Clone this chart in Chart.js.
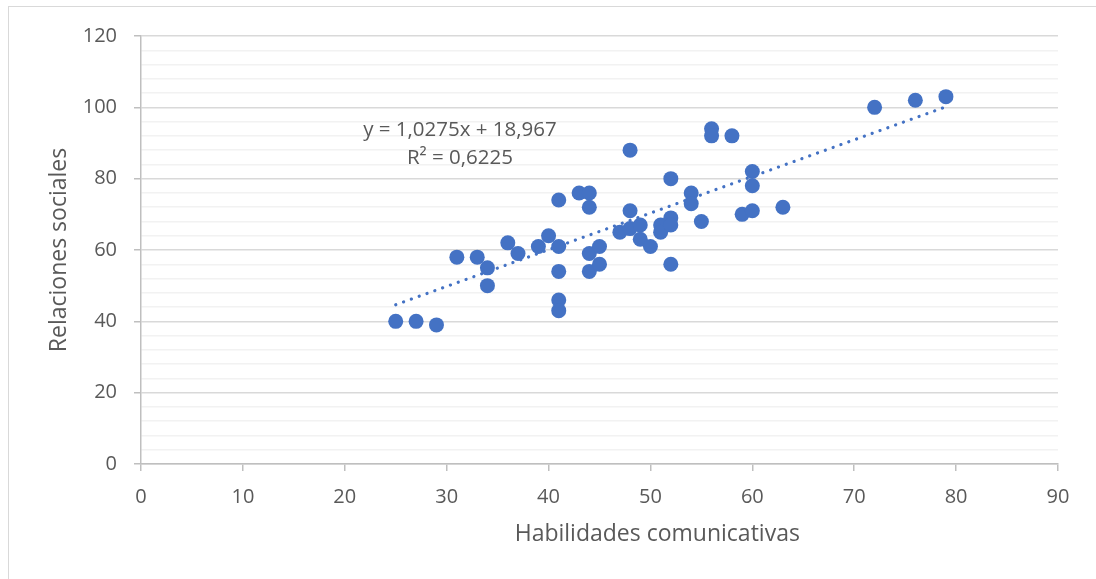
<!DOCTYPE html>
<html>
<head>
<meta charset="utf-8">
<script src="https://cdn.jsdelivr.net/npm/chart.js@4.4.0/dist/chart.umd.min.js"></script>
<style>
  body { margin: 0; background: #fff; overflow: hidden; }
  #wrap { position: relative; width: 1096px; height: 579px; }
  #frame { position: absolute; left: 8px; top: 6px; width: 1200px; height: 700px; border: 1.5px solid #d9d9d9; box-sizing: border-box; }
  canvas { position: absolute; left: 0; top: 0; }
</style>
</head>
<body>
<div id="wrap">
  <div id="frame"></div>
  <canvas id="myChart" width="1096" height="579"></canvas>
</div>
<script>
// Habilidades comunicativas (x) vs Relaciones sociales (y)
const habilidades = [25,27,29,31,33,34,34,36,37,39,40,41,41,41,41,41,43,44,44,44,44,45,45,47,48,48,48,49,49,50,51,51,52,52,52,52,54,54,55,56,56,58,59,60,60,60,63,72,76,79];
const relaciones  = [40,40,39,58,58,55,50,62,59,61,64,61,74,54,46,43,76,76,72,59,54,61,56,65,71,88,66,67,63,61,67,65,69,67,80,56,76,73,68,94,92,92,70,71,82,78,72,100,102,103];

// linear trendline shown on the chart
const trendSlope = 1.0275;
const trendIntercept = 18.967;
const trendLabel = ["y = 1,0275x + 18,967", "R\u00b2 = 0,6225"];

const xTitle = "Habilidades comunicativas";
const yTitle = "Relaciones sociales";

const FONT = "'Open Sans', 'DejaVu Sans', sans-serif";
const TEXT = "#595959";
const BLUE = "#4472C4";

const points = habilidades.map((x, i) => ({x: x, y: relaciones[i]}));
const xMin = Math.min(...habilidades), xMax = Math.max(...habilidades);
const trendPoints = [xMin, xMax].map(x => ({x: x, y: trendSlope * x + trendIntercept}));

// equation box + x axis title (Excel puts the title a bit right of centre)
const extraText = {
    id: 'extraText',
    afterDatasetsDraw(chart) {
        const ctx = chart.ctx;
        const xs = chart.scales.x, ys = chart.scales.y;
        const a = chart.chartArea;
        ctx.save();
        ctx.fillStyle = TEXT;
        ctx.textAlign = "center";
        ctx.textBaseline = "middle";
        ctx.font = "20.5px " + FONT;
        const cx = xs.getPixelForValue(31.3);
        ctx.fillText(trendLabel[0], cx, ys.getPixelForValue(93.6));
        ctx.fillText(trendLabel[1], cx, ys.getPixelForValue(85.8));
        ctx.font = "23px " + FONT;
        ctx.fillText(xTitle, a.left + (a.right - a.left) * 0.563, a.bottom + 70);
        ctx.restore();
    }
};

new Chart("myChart", {
    type: 'scatter',
    data: {
        datasets: [{
            data: points,
            backgroundColor: BLUE,
            borderColor: BLUE,
            borderWidth: 0,
            pointRadius: 7.5,
            pointHoverRadius: 7.5,
            order: 1
        }, {
            type: 'line',
            data: trendPoints,
            borderColor: BLUE,
            borderWidth: 3.2,
            borderDash: [0.1, 8.2],
            borderCapStyle: 'round',
            pointRadius: 0,
            fill: false,
            order: 2
        }]
    },
    plugins: [extraText],
    options: {
        responsive: false,
        animation: false,
        layout: { padding: { top: 36, right: 38, left: 0, bottom: 0 } },
        plugins: { legend: { display: false }, tooltip: { enabled: false } },
        scales: {
            x: {
                type: 'linear',
                min: 0, max: 90,
                afterFit: s => { s.height = 115; },
                ticks: { stepSize: 10, color: TEXT, font: { family: FONT, size: 20 }, padding: 14, maxRotation: 0 },
                grid: { drawOnChartArea: false, drawTicks: true, tickLength: 7, color: '#bfbfbf', lineWidth: 1.5 },
                border: { color: '#bfbfbf', width: 1.5 }
            },
            y: {
                min: 0, max: 120,
                afterFit: s => { s.width = 141; },
                ticks: {
                    stepSize: 4, color: TEXT, font: { family: FONT, size: 20 }, padding: 17,
                    autoSkip: false,
                    callback: v => (v % 20 === 0 ? v : '')
                },
                grid: {
                    tickLength: 7,
                    color: c => (c.tick && c.tick.value % 20 === 0 ? '#d9d9d9' : '#f2f2f2'),
                    tickColor: c => (c.tick && c.tick.value % 20 === 0 ? '#bfbfbf' : 'rgba(0,0,0,0)'),
                    lineWidth: 1.5
                },
                border: { color: '#bfbfbf', width: 1.5 },
                title: { display: true, text: yTitle, color: TEXT, font: { family: FONT, size: 23 }, padding: { top: 46, bottom: 0 } }
            }
        }
    }
});
</script>
</body>
</html>
